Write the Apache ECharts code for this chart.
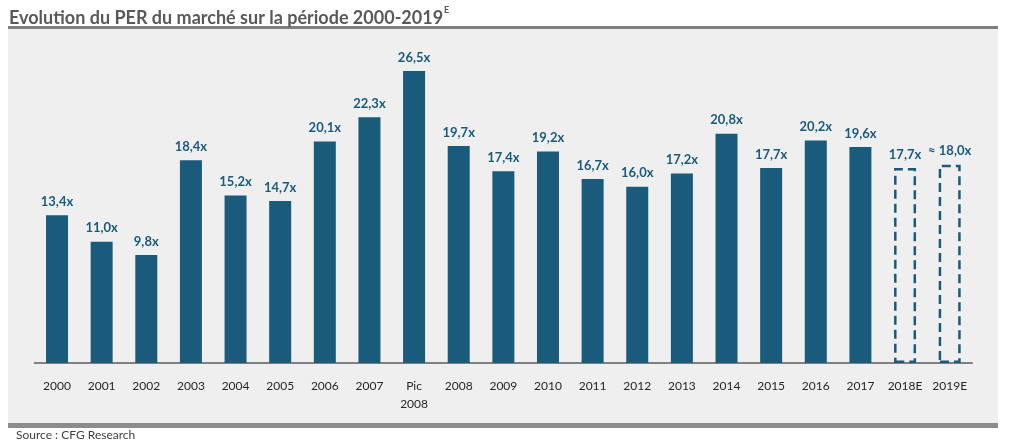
<!DOCTYPE html>
<html>
<head>
<meta charset="utf-8">
<script src="https://cdn.jsdelivr.net/npm/echarts@6/dist/echarts.min.js"></script>
<style>
  html, body { margin: 0; padding: 0; background: #fff; }
  #main { width: 1012px; height: 448px; }
</style>
</head>
<body>
<div id="main"></div>
<script>
// categories et valeurs du PER
const categories = ['2000','2001','2002','2003','2004','2005','2006','2007','Pic\n2008','2008','2009','2010','2011','2012','2013','2014','2015','2016','2017','2018E','2019E']
const perValues = [13.4, 11.0, 9.8, 18.4, 15.2, 14.7, 20.1, 22.3, 26.5, 19.7, 17.4, 19.2, 16.7, 16.0, 17.2, 20.8, 17.7, 20.2, 19.6, 17.7, 18.0]
const perLabels = ['13,4x','11,0x','9,8x','18,4x','15,2x','14,7x','20,1x','22,3x','26,5x','19,7x','17,4x','19,2x','16,7x','16,0x','17,2x','20,8x','17,7x','20,2x','19,6x','17,7x','≈ 18,0x']
// les estimations sont dessinées en pointillés
const estimated = ['2018E', '2019E']

const barColor = '#1a5b7c'
const font = 'Lato, "Open Sans", sans-serif'

let myChart = echarts.init(document.getElementById('main'))

let data = perValues.map(function (v, i) {
    if (estimated.indexOf(categories[i]) >= 0) {
        return {
            value: v,
            itemStyle: {
                color: 'rgba(0,0,0,0)',
                borderColor: barColor,
                borderWidth: 2.5,
                borderType: [9, 5]
            }
        }
    }
    return { value: v }
})

let option = {
    animation: false,
    backgroundColor: '#ffffff',
    textStyle: { fontFamily: font },
    graphic: [
        // fond gris du cadre
        { type: 'rect', z: -10, shape: { x: 8, y: 27, width: 990, height: 398 }, style: { fill: '#efefef' } },
        // trait du haut
        { type: 'rect', z: -5, shape: { x: 8, y: 26, width: 990, height: 3 }, style: { fill: '#7f7f7f' } },
        // trait du bas
        { type: 'rect', z: -5, shape: { x: 8, y: 423, width: 990, height: 5 }, style: { fill: '#8c8c8c' } },
        {
            type: 'text', left: 16, top: 429,
            style: { text: 'Source : CFG Research', fill: '#404040', font: '12px ' + font }
        }
    ],
    title: {
        left: 4,
        top: 1,
        text: '{t|Evolution du PER du marché sur la période 2000-2019}{s|E}',
        textStyle: {
            rich: {
                t: { fontSize: 18, fontWeight: 'bold', color: '#595959', fontFamily: font },
                s: { fontSize: 9, fontWeight: 'bold', color: '#595959', fontFamily: font, verticalAlign: 'top', padding: [0, 0, 16, 1] }
            }
        }
    },
    grid: { left: 34.7, right: 40, top: 32.4, bottom: 85 },
    xAxis: {
        type: 'category',
        data: categories,
        axisTick: { show: false },
        axisLine: { lineStyle: { color: '#808080', width: 2 } },
        axisLabel: { color: '#262626', fontSize: 12, margin: 14, lineHeight: 18, interval: 0, fontFamily: font }
    },
    yAxis: {
        type: 'value',
        min: 0,
        max: 30,
        show: false,
        splitLine: { show: false }
    },
    series: [{
        type: 'bar',
        data: data,
        barWidth: 22,
        itemStyle: { color: barColor },
        label: {
            show: true,
            position: 'top',
            distance: 7,
            color: barColor,
            fontWeight: 'bold',
            fontSize: 13,
            fontFamily: font,
            formatter: function (p) { return perLabels[p.dataIndex] }
        }
    }]
}

myChart.setOption(option)
</script>
</body>
</html>
